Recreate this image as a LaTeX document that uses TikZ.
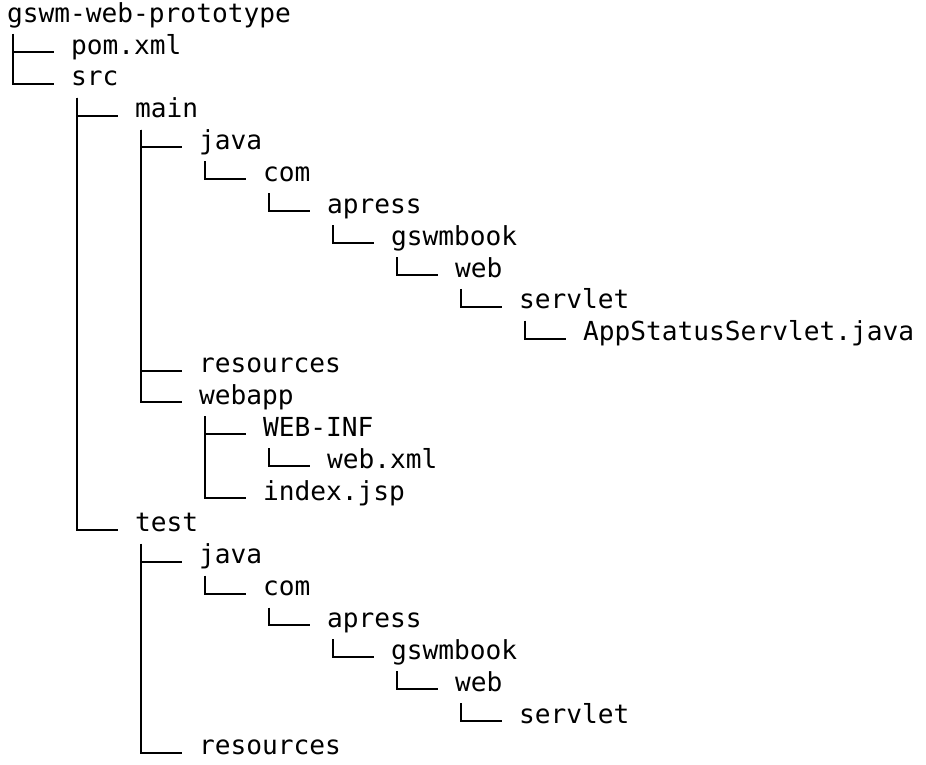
\documentclass[tikz,border=0pt]{standalone}
\usepackage{fontspec}
\setmonofont{DejaVu Sans Mono}
\begin{document}
\begin{tikzpicture}[x=1pt,y=-1pt,
  entry/.style={anchor=mid west,inner sep=0pt,outer sep=0pt,font=\ttfamily\fontsize{26.2}{30}\selectfont},
  branch/.style={line width=2pt,black}]
\useasboundingbox (0,0) rectangle (926,765);
\node[entry] (root) at (7,20) {gswm-web-prototype};
\node[entry] (pom) at (71,51.9) {pom.xml};
\node[entry] (src) at (71,83.7) {src};
\node[entry] (main) at (135,115.6) {main};
\node[entry] (mjava) at (199,147.4) {java};
\node[entry] (mcom) at (263,179.3) {com};
\node[entry] (mapress) at (327,211.2) {apress};
\node[entry] (mbook) at (391,243.0) {gswmbook};
\node[entry] (mweb) at (455,274.9) {web};
\node[entry] (mservlet) at (519,306.7) {servlet};
\node[entry] (app) at (583,338.6) {AppStatusServlet.java};
\node[entry] (mres) at (199,370.5) {resources};
\node[entry] (webapp) at (199,402.3) {webapp};
\node[entry] (webinf) at (263,434.2) {WEB-INF};
\node[entry] (webxml) at (327,466.0) {web.xml};
\node[entry] (index) at (263,497.9) {index.jsp};
\node[entry] (test) at (135,529.8) {test};
\node[entry] (tjava) at (199,561.6) {java};
\node[entry] (tcom) at (263,593.5) {com};
\node[entry] (tapress) at (327,625.3) {apress};
\node[entry] (tbook) at (391,657.2) {gswmbook};
\node[entry] (tweb) at (455,689.1) {web};
\node[entry] (tservlet) at (519,720.9) {servlet};
\node[entry] (tres) at (199,752.8) {resources};
\foreach \p/\c in {root/pom, root/src, src/main, src/test,
  main/mjava, main/mres, main/webapp, mjava/mcom, mcom/mapress,
  mapress/mbook, mbook/mweb, mweb/mservlet, mservlet/app,
  webapp/webinf, webapp/index, webinf/webxml,
  test/tjava, test/tres, tjava/tcom, tcom/tapress, tapress/tbook,
  tbook/tweb, tweb/tservlet}
  \draw[branch] ([xshift=6pt,yshift=-14pt]\p.mid west) |- ([xshift=-17pt]\c.mid west);
\end{tikzpicture}
\end{document}
